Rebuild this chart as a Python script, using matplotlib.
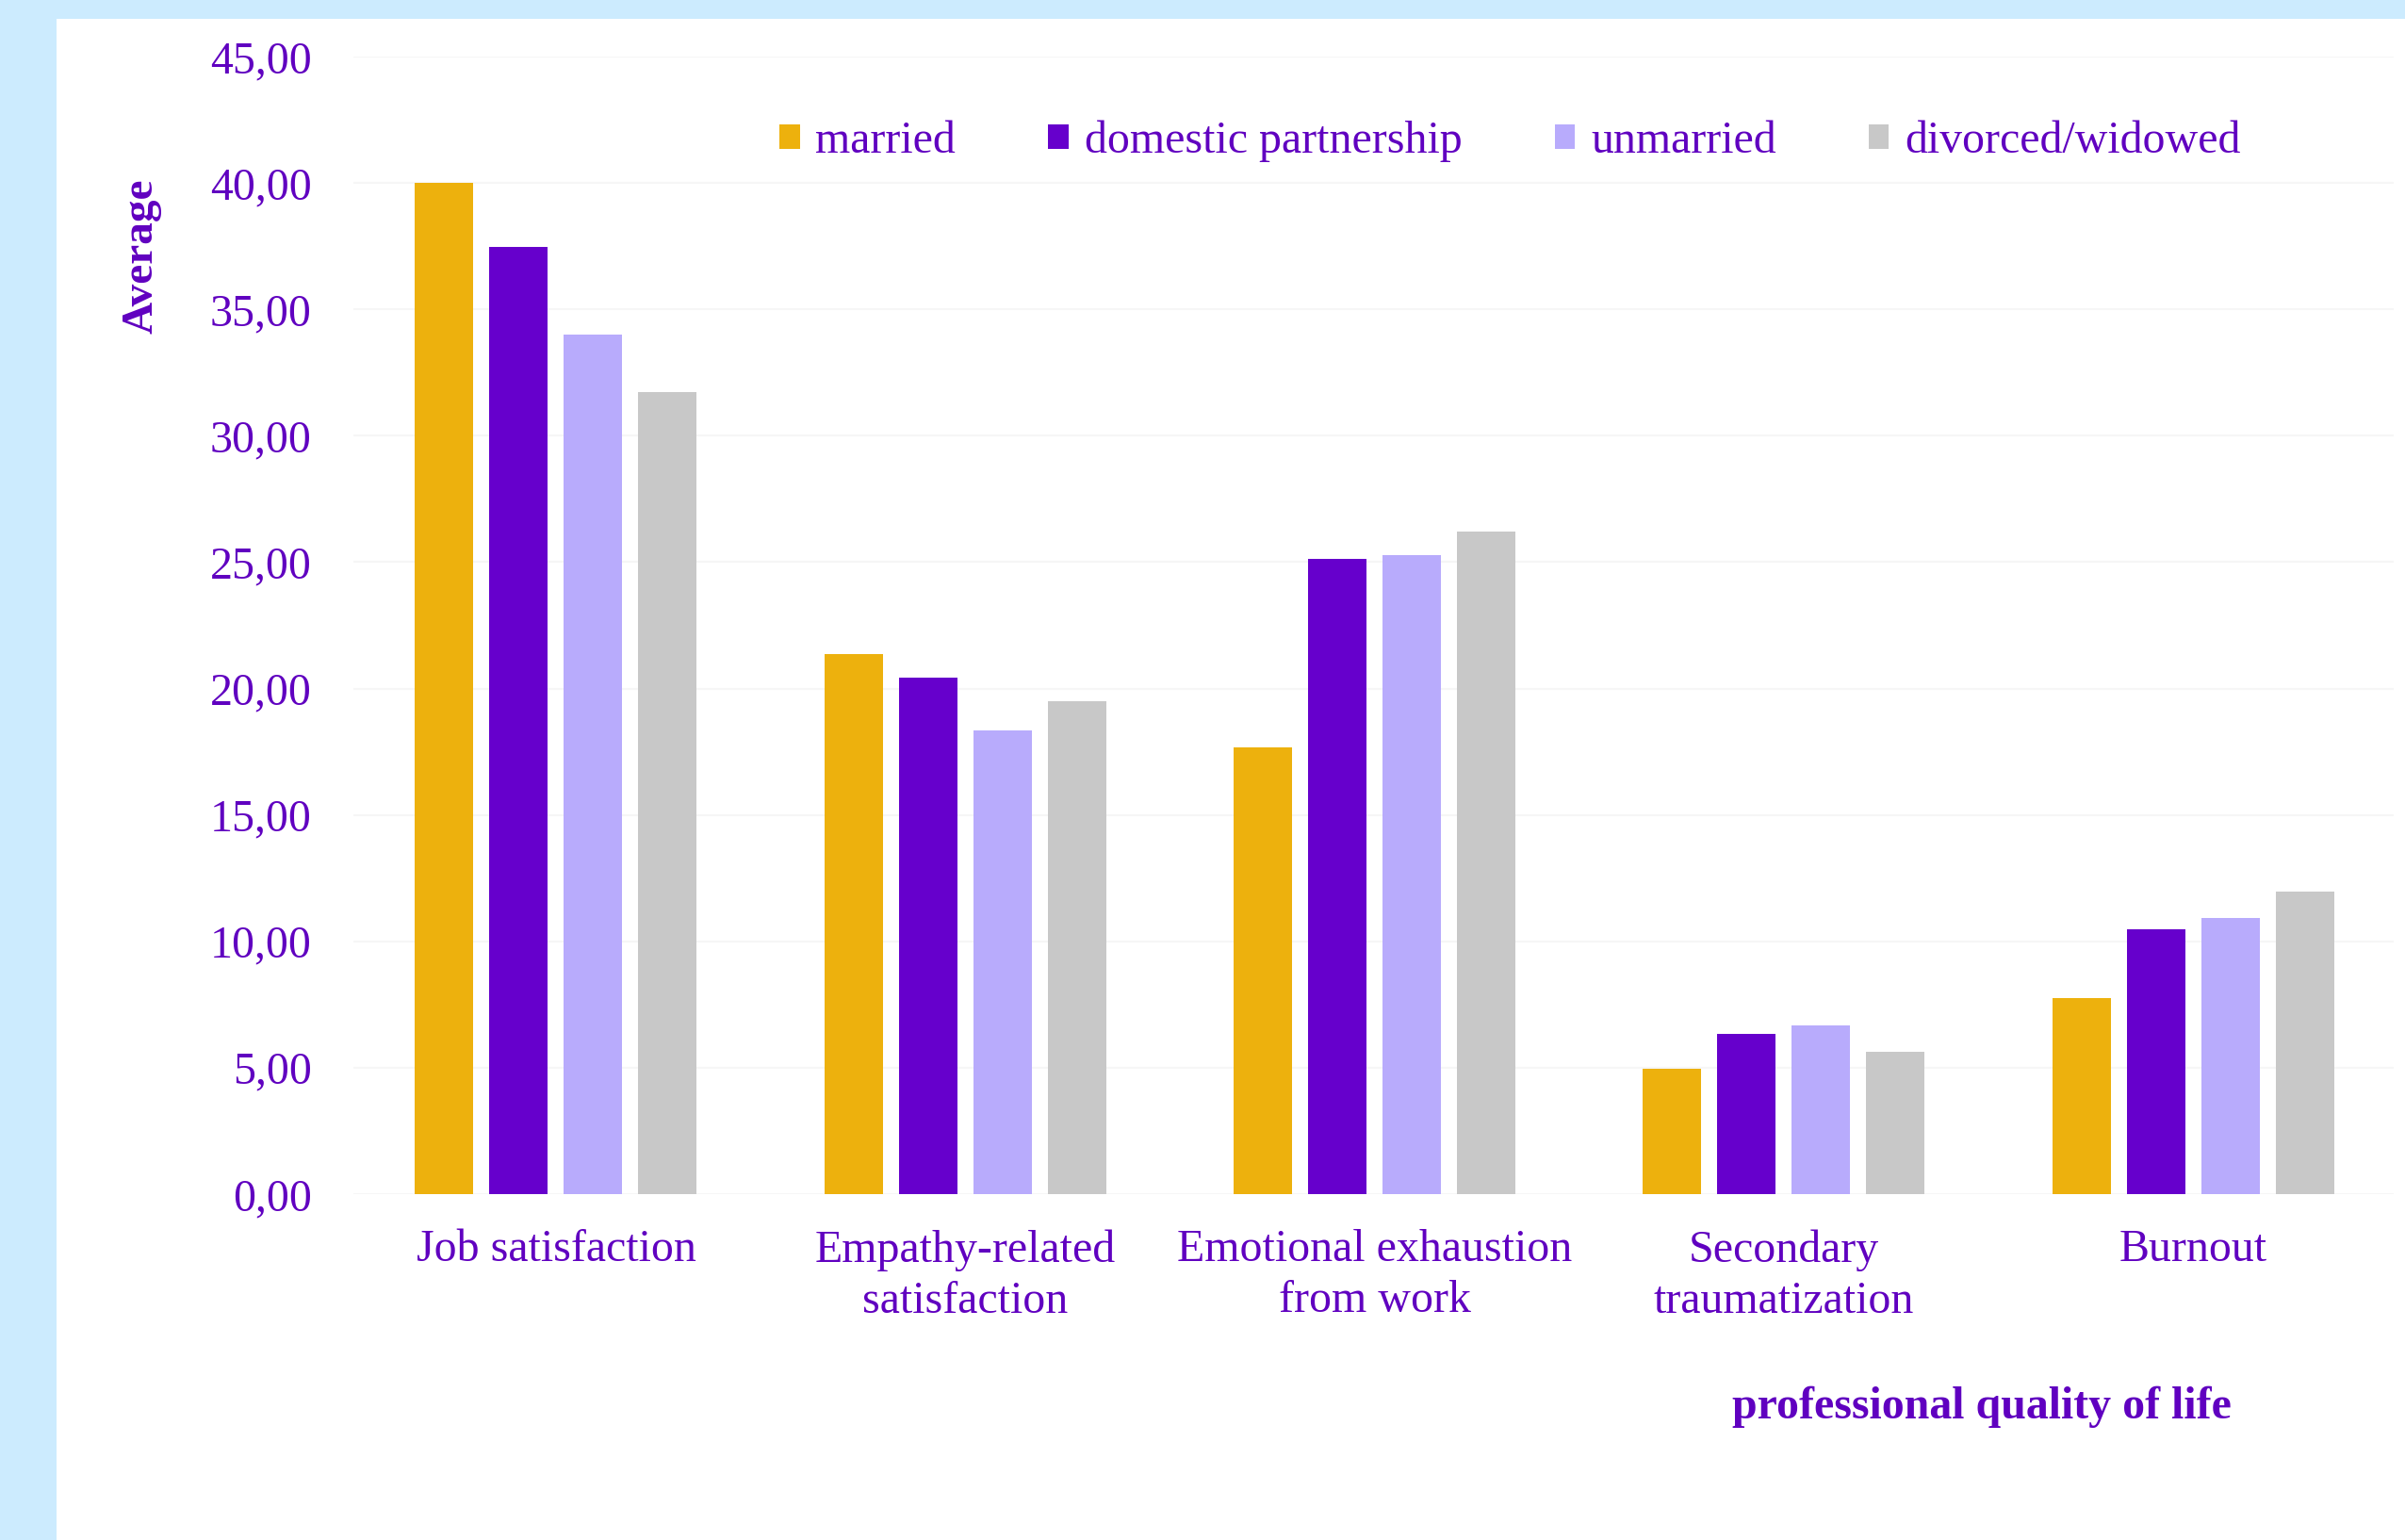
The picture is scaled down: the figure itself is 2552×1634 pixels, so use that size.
import numpy as np
import matplotlib
matplotlib.use('Agg')
import matplotlib.pyplot as plt
from matplotlib.patches import Patch, Rectangle
from matplotlib.ticker import FuncFormatter

# 字体设置
plt.rcParams['font.family'] = ['Liberation Serif', 'DejaVu Serif']

categories = ['Job satisfaction', 'Empathy-related\nsatisfaction', 'Emotional exhaustion\nfrom work',
              'Secondary\ntraumatization', 'Burnout']
series_names = ['married', 'domestic partnership', 'unmarried', 'divorced/widowed']
married = [40.00, 21.37, 17.66, 4.94, 7.76]
domestic = [37.48, 20.44, 25.14, 6.32, 10.46]
unmarried = [34.02, 18.36, 25.29, 6.66, 10.92]
divorced = [31.71, 19.50, 26.20, 5.63, 11.96]
colors = ['#EDB10D', '#6600CC', '#B8ABFC', '#C8C8C8']

txt_color = '#6000C0'
fs = 34.5

fig = plt.figure(figsize=(25.52, 16.34), dpi=100, facecolor='#CCEBFE')
# 白色背景区域(左边和上边留浅蓝边)
fig.patches.append(Rectangle((60 / 2552, 0), 1, 1 - 20 / 1634, transform=fig.transFigure,
                             facecolor='white', edgecolor='none', zorder=-10))

ax = fig.add_axes([375 / 2552, 1 - 1267 / 1634, (2540 - 375) / 2552, (1267 - 60) / 1634])
ax.set_facecolor('white')

x = np.arange(len(categories))
step = 0.1819
width = 0.1427
for i, (vals, c, name) in enumerate(zip([married, domestic, unmarried, divorced], colors, series_names)):
    ax.bar(x + (i - 1.5) * step, vals, width=width, color=c, label=name, zorder=3)

ax.set_xlim(-0.495, 4.49)
ax.set_ylim(0, 45)
ax.set_yticks(np.arange(0, 46, 5))
ax.yaxis.set_major_formatter(FuncFormatter(lambda v, p: f'{v:.2f}'.replace('.', ',')))
ax.set_xticks(x)
ax.set_xticklabels(categories, linespacing=1.28)
ax.tick_params(axis='both', length=0, labelsize=fs, labelcolor=txt_color)
ax.tick_params(axis='y', pad=32)
ax.tick_params(axis='x', pad=27)
ax.grid(axis='y', color='#F6F6F6', linewidth=1.5, zorder=0)
for s in ax.spines.values():
    s.set_visible(False)

handles = [Patch(facecolor=c, edgecolor='none') for c in colors]
fig.legend(handles, series_names, loc='center left', bbox_to_anchor=(827 / 2552, 1 - 150 / 1634),
           ncol=4, frameon=False, fontsize=fs, labelcolor=txt_color, handlelength=0.45,
           handleheight=0.45, handletextpad=0.35, columnspacing=2.05, borderaxespad=0, borderpad=0)

fig.text(151 / 2552, 1 - 272 / 1634, 'Average', rotation=90, ha='center', va='center',
         fontsize=34, fontweight='bold', color=txt_color)
fig.text(2103 / 2552, 1 - 1493 / 1634, 'professional quality of life', ha='center', va='center',
         fontsize=fs, fontweight='bold', color=txt_color)

fig.savefig('out.png', dpi=100, facecolor=fig.get_facecolor())
